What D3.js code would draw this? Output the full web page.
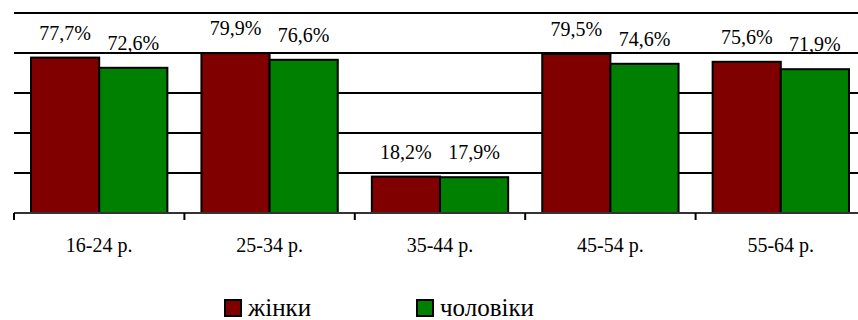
<!DOCTYPE html>
<html>
<head>
<meta charset="utf-8">
<script src="https://cdn.jsdelivr.net/npm/d3@7"></script>
<style>
  body { margin: 0; background: #fff; }
  svg { display: block; }
  svg text { font-family: "Liberation Serif", "Tinos", "Times New Roman", "DejaVu Serif", serif; }
</style>
</head>
<body>
<svg id="chart"></svg>
<script>
const WIDTH = 858;
const HEIGHT = 320;

// age groups and shares (%)
var categories = ['16-24 р.', '25-34 р.', '35-44 р.', '45-54 р.', '55-64 р.'];
var series = ['жінки', 'чоловіки'];
var women = [77.7, 79.9, 18.2, 79.5, 75.6];
var men = [72.6, 76.6, 17.9, 74.6, 71.9];
var colors = ['#800000', '#008000'];
var yTicks = [20, 40, 60, 80, 100];

var rows = categories.map(function(c, i) {
    return { cat: c, values: [women[i], men[i]] };
});

var svg = d3.select('#chart')
    .attr('width', WIDTH)
    .attr('height', HEIGHT);

// note: "top" is taken by window.top, so use other names
var plotLeft = 14, plotTop = 13, plotBottom = 213;
var step = 170.4;

// category bands run past the right edge, like the original picture
var x0 = d3.scaleBand()
    .domain(categories)
    .range([plotLeft, plotLeft + step * categories.length])
    .padding(0);

var x1 = d3.scaleBand()
    .domain(series)
    .range([0, x0.bandwidth()])
    .paddingInner(0)
    .paddingOuter(0.25);

var y = d3.scaleLinear()
    .domain([0, 100])
    .range([plotBottom, plotTop]);

// gridlines
svg.append('g').selectAll('line')
    .data(yTicks)
    .enter()
    .append('line')
    .attr('x1', plotLeft)
    .attr('x2', WIDTH)
    .attr('y1', function(d) { return y(d); })
    .attr('y2', function(d) { return y(d); })
    .attr('stroke', '#000')
    .attr('stroke-width', 2);

// bars
var groups = svg.append('g').selectAll('g')
    .data(rows)
    .enter()
    .append('g')
    .attr('transform', function(d) { return 'translate(' + x0(d.cat) + ',0)'; });

groups.selectAll('rect')
    .data(function(d) { return d.values; })
    .enter()
    .append('rect')
    .attr('x', function(d, i) { return x1(series[i]); })
    .attr('y', function(d) { return y(d); })
    .attr('width', x1.bandwidth())
    .attr('height', function(d) { return y(0) - y(d); })
    .attr('fill', function(d, i) { return colors[i]; })
    .attr('stroke', '#000')
    .attr('stroke-width', 2);

// value labels
groups.selectAll('text')
    .data(function(d) { return d.values; })
    .enter()
    .append('text')
    .attr('x', function(d, i) { return x1(series[i]) + x1.bandwidth() / 2; })
    .attr('y', function(d) { return y(d) - 18; })
    .attr('text-anchor', 'middle')
    .attr('font-size', 20)
    .attr('fill', '#000')
    .text(function(d) { return d.toFixed(1).replace('.', ',') + '%'; });

// x axis: baseline, ticks at band edges, labels at centres
var axis = svg.append('g');
axis.append('line')
    .attr('x1', plotLeft)
    .attr('x2', WIDTH)
    .attr('y1', y(0))
    .attr('y2', y(0))
    .attr('stroke', '#333')
    .attr('stroke-width', 2);

axis.selectAll('.tick')
    .data(categories)
    .enter()
    .append('line')
    .attr('class', 'tick')
    .attr('x1', function(d) { return x0(d); })
    .attr('x2', function(d) { return x0(d); })
    .attr('y1', y(0))
    .attr('y2', y(0) + 7)
    .attr('stroke', '#000')
    .attr('stroke-width', 2);

axis.selectAll('text')
    .data(categories)
    .enter()
    .append('text')
    .attr('x', function(d) { return x0(d) + x0.bandwidth() / 2; })
    .attr('y', 252)
    .attr('text-anchor', 'middle')
    .attr('font-size', 20)
    .text(function(d) { return d; });

// legend
var legendX = [225, 417];
var legend = svg.append('g').selectAll('g')
    .data(series)
    .enter()
    .append('g')
    .attr('transform', function(d, i) { return 'translate(' + legendX[i] + ',300)'; });

legend.append('rect')
    .attr('width', 16)
    .attr('height', 16)
    .attr('fill', function(d, i) { return colors[i]; })
    .attr('stroke', '#000')
    .attr('stroke-width', 2);

legend.append('text')
    .attr('x', 23)
    .attr('y', 16)
    .attr('font-size', 25)
    .text(function(d) { return d; });
</script>
</body>
</html>
